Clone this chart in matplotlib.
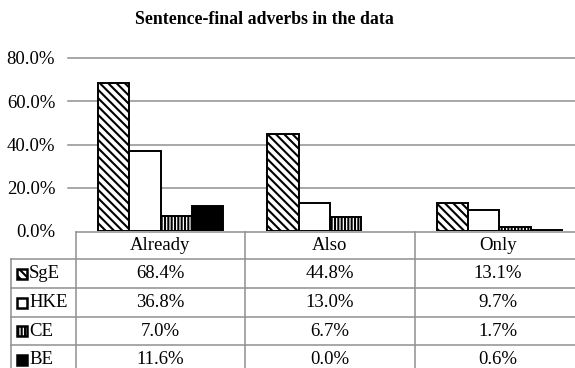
import matplotlib
matplotlib.use("Agg")
import matplotlib.pyplot as plt
from matplotlib.patches import Rectangle
from matplotlib.lines import Line2D
import numpy as np

# Chart data
categories = ["Already", "Also", "Only"]
series = ["SgE", "HKE", "CE", "BE"]
sge = [68.4, 44.8, 13.1]
hke = [36.8, 13.0, 9.7]
ce = [7.0, 6.7, 1.7]
be = [11.6, 0.0, 0.6]
yticks = [0, 20, 40, 60, 80]
title = "Sentence-final adverbs in the data"

W, H = 575, 368
plt.rcParams['font.family'] = ['Liberation Serif', 'DejaVu Serif']
plt.rcParams['hatch.linewidth'] = 1.5

fig = plt.figure(figsize=(W / 100, H / 100), dpi=100)


def fx(x):
    return x / W


def fy(y):
    return 1 - y / H


GRID = '#8f8f8f'
TEXT_SIZE = 13.5

# plot area (right part runs past the image edge)
left_px, right_px, top_px, base_px = 76, 584, 58, 231
ax = fig.add_axes([fx(left_px), fy(base_px), (right_px - left_px) / W,
                   (base_px - top_px) / H])
ax.set_xlim(0, len(categories))
ax.set_ylim(0, 80)
for s in ax.spines.values():
    s.set_visible(False)
ax.set_xticks([])
ax.set_yticks(yticks)
ax.set_yticklabels([f"{v:.1f}%" for v in yticks], fontsize=TEXT_SIZE)
ax.tick_params(axis='y', length=0, pad=15)

ext = 8 / (right_px - left_px)
for v in yticks[1:]:
    ax.axhline(v, xmin=-ext, xmax=1, color=GRID, lw=1.1, clip_on=False, zorder=0)

styles = [
    dict(facecolor='white', hatch='\\\\\\\\'),
    dict(facecolor='white', hatch=None),
    dict(facecolor='white', hatch='|||||'),
    dict(facecolor='black', hatch=None),
]
values = [sge, hke, ce, be]
bw = 0.185
x = np.arange(len(categories)) + 0.5
for i, (vals, st) in enumerate(zip(values, styles)):
    lws = [1.4 if v > 0 else 0 for v in vals]
    ax.bar(x + (i - 1.5) * bw, vals, width=bw, edgecolor='black', linewidth=lws,
           zorder=3, **st)

# title
fig.text(fx(264), fy(19), title, ha='center', va='center', fontsize=12.8,
         fontweight='bold')

# data table
col_edges = [76, 245, 415, 584]
row_edges = [232, 259, 288, 317, 345, 374]
tbl_left = 11


def hline(y, x0, x1):
    fig.add_artist(Line2D([fx(x0), fx(x1)], [fy(y), fy(y)], color=GRID,
                          lw=1.1, transform=fig.transFigure))


def vline(xp, y0, y1):
    fig.add_artist(Line2D([fx(xp), fx(xp)], [fy(y0), fy(y1)], color=GRID,
                          lw=1.1, transform=fig.transFigure))


hline(row_edges[0], col_edges[0], col_edges[-1])
for y in row_edges[1:-1]:
    hline(y, tbl_left, col_edges[-1])
vline(tbl_left, row_edges[1], row_edges[-1])
for xp in col_edges:
    vline(xp, row_edges[0], row_edges[-1])

col_centers = [(a + b) / 2 for a, b in zip(col_edges[:-1], col_edges[1:])]
col_centers[-1] = 498
row_centers = [(a + b) / 2 for a, b in zip(row_edges[:-1], row_edges[1:])]

for cx, cat in zip(col_centers, categories):
    fig.text(fx(cx), fy(row_centers[0]), cat, ha='center', va='center',
             fontsize=TEXT_SIZE)

for r, (name, vals, st) in enumerate(zip(series, values, styles)):
    cy = row_centers[r + 1]
    key = Rectangle((fx(17), fy(cy + 5)), 10 / W, 10 / H,
                    transform=fig.transFigure, edgecolor='black', lw=1.8,
                    **st)
    fig.add_artist(key)
    fig.text(fx(29), fy(cy), name, ha='left', va='center', fontsize=TEXT_SIZE)
    for cx, v in zip(col_centers, vals):
        fig.text(fx(cx), fy(cy), f"{v:.1f}%", ha='center', va='center',
                 fontsize=TEXT_SIZE)

fig.savefig("out.png", dpi=100)
